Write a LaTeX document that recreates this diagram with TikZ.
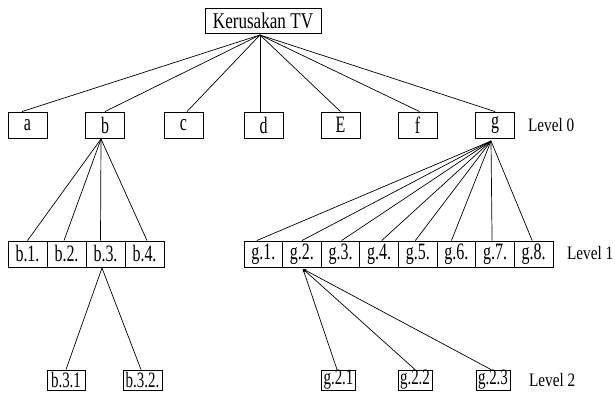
\documentclass[tikz,border=0pt]{standalone}
\usepackage{fontspec}
\setmainfont{Liberation Serif}
\newfontfamily\cellfont[FakeStretch=0.68]{Liberation Serif}
\newfontfamily\headfont[FakeStretch=0.76]{Liberation Serif}
\newfontfamily\levelfont[FakeStretch=0.8]{Liberation Serif}
\usetikzlibrary{arrows.meta}

\begin{document}
\begin{tikzpicture}[x=1pt,y=-1pt,
  box/.style={draw,line width=0.9pt,inner sep=0pt,minimum width=39pt,minimum height=26pt,
    font=\cellfont\fontsize{23.5}{23.5}\selectfont},
  gcell/.style={box,minimum width=38.625pt},
  leaf/.style={box,minimum height=20pt,font=\cellfont\fontsize{22}{22}\selectfont},
  headbox/.style={box,minimum width=116pt,minimum height=25pt,
    font=\headfont\fontsize{22.5}{22.5}\selectfont},
  levellabel/.style={anchor=west,inner sep=0pt,font=\levelfont\fontsize{19}{19}\selectfont},
  link/.style={line width=0.7pt},
  g2link/.style={link,{Stealth[length=3.5pt,width=2.8pt]}-}]
\useasboundingbox (0,0) rectangle (615,401);

% root
\node[headbox] (top) at (263,20.5) {Kerusakan TV};

% level 0
\node[box] (a) at (27.5,125) {a};
\node[box] (b) at (105,125) {b};
\node[box] (c) at (183.5,125) {c};
\node[box] (d) at (263.5,125) {d};
\node[box] (E) at (340.5,125) {E};
\node[box] (f) at (417.5,125) {f};
\node[box] (g) at (495,125) {g};
\node[levellabel] (lv0) at (528,125) {Level 0};

% level 1, branch b
\node[box] (b1) at (27.5,254) {b.1.};
\node[box] (b2) at (66.5,254) {b.2.};
\node[box] (b3) at (105.5,254) {b.3.};
\node[box] (b4) at (144.5,254) {b.4.};

% level 1, branch g
\node[gcell] (g1) at (263.31,254) {g.1.};
\node[gcell] (g2) at (301.94,254) {g.2.};
\node[gcell] (g3) at (340.56,254) {g.3.};
\node[gcell] (g4) at (379.19,254) {g.4.};
\node[gcell] (g5) at (417.81,254) {g.5.};
\node[gcell] (g6) at (456.44,254) {g.6.};
\node[gcell] (g7) at (495.06,254) {g.7.};
\node[gcell] (g8) at (533.69,254) {g.8.};
\node[levellabel] (lv1) at (567,253) {Level 1};

% level 2
\node[leaf,minimum width=38pt] (b31) at (66,380) {b.3.1};
\node[leaf,minimum width=39pt] (b32) at (142.5,380) {b.3.2.};
\node[leaf,minimum width=34pt] (g21) at (338.5,380) {g.2.1};
\node[leaf,minimum width=34pt] (g22) at (415,380) {g.2.2};
\node[leaf,minimum width=34pt] (g23) at (493,380) {g.2.3};
\node[levellabel] (lv2) at (529,380) {Level 2};

% fan-out points
\coordinate (tb) at (260,35);
\coordinate (bb) at (101,139);
\coordinate (gb) at (491,141);
\coordinate (b3s) at (102,268);
\coordinate (g2s) at (303,269);

% root to level 0
\draw[link] (tb) -- ([xshift=-5.5pt]a.north);
\draw[link] (tb) -- (b.north);
\draw[link] (tb) -- ([xshift=3.5pt]c.north);
\draw[link] (tb) -- ([xshift=-3.5pt]d.north);
\draw[link] (tb) -- (E.north);
\draw[link] (tb) -- ([xshift=2pt]f.north);
\draw[link] (tb) -- (g.north);

% b to level 1
\draw[link] (bb) -- (b1.north);
\draw[link] (bb) -- ([xshift=-2.5pt]b2.north);
\draw[link] (bb) -- ([xshift=-5pt]b3.north);
\draw[link] (bb) -- ([xshift=2.5pt]b4.north);

% g to level 1
\draw[link] (gb) -- ([xshift=-6.5pt]g1.north);
\draw[link] (gb) -- (g2.north);
\draw[link] (gb) -- ([xshift=1pt]g3.north);
\draw[link] (gb) -- ([xshift=2.5pt]g4.north);
\draw[link] (gb) -- ([xshift=-2.5pt]g5.north);
\draw[link] (gb) -- ([xshift=-5pt]g6.north);
\draw[link] (gb) -- ([xshift=-3pt]g7.north);
\draw[link] (gb) -- ([xshift=-1.5pt]g8.north);

% b.3 to level 2
\draw[link] (b3s) -- (b31.north);
\draw[link] (b3s) -- ([xshift=-1.5pt]b32.north);

% g.2 to level 2
\draw[g2link] (g2s) -- ([xshift=-1.5pt]g21.north);
\draw[g2link] (g2s) -- (g22.north);
\draw[g2link] (g2s) -- ([xshift=-2pt]g23.north);
\end{tikzpicture}
\end{document}
